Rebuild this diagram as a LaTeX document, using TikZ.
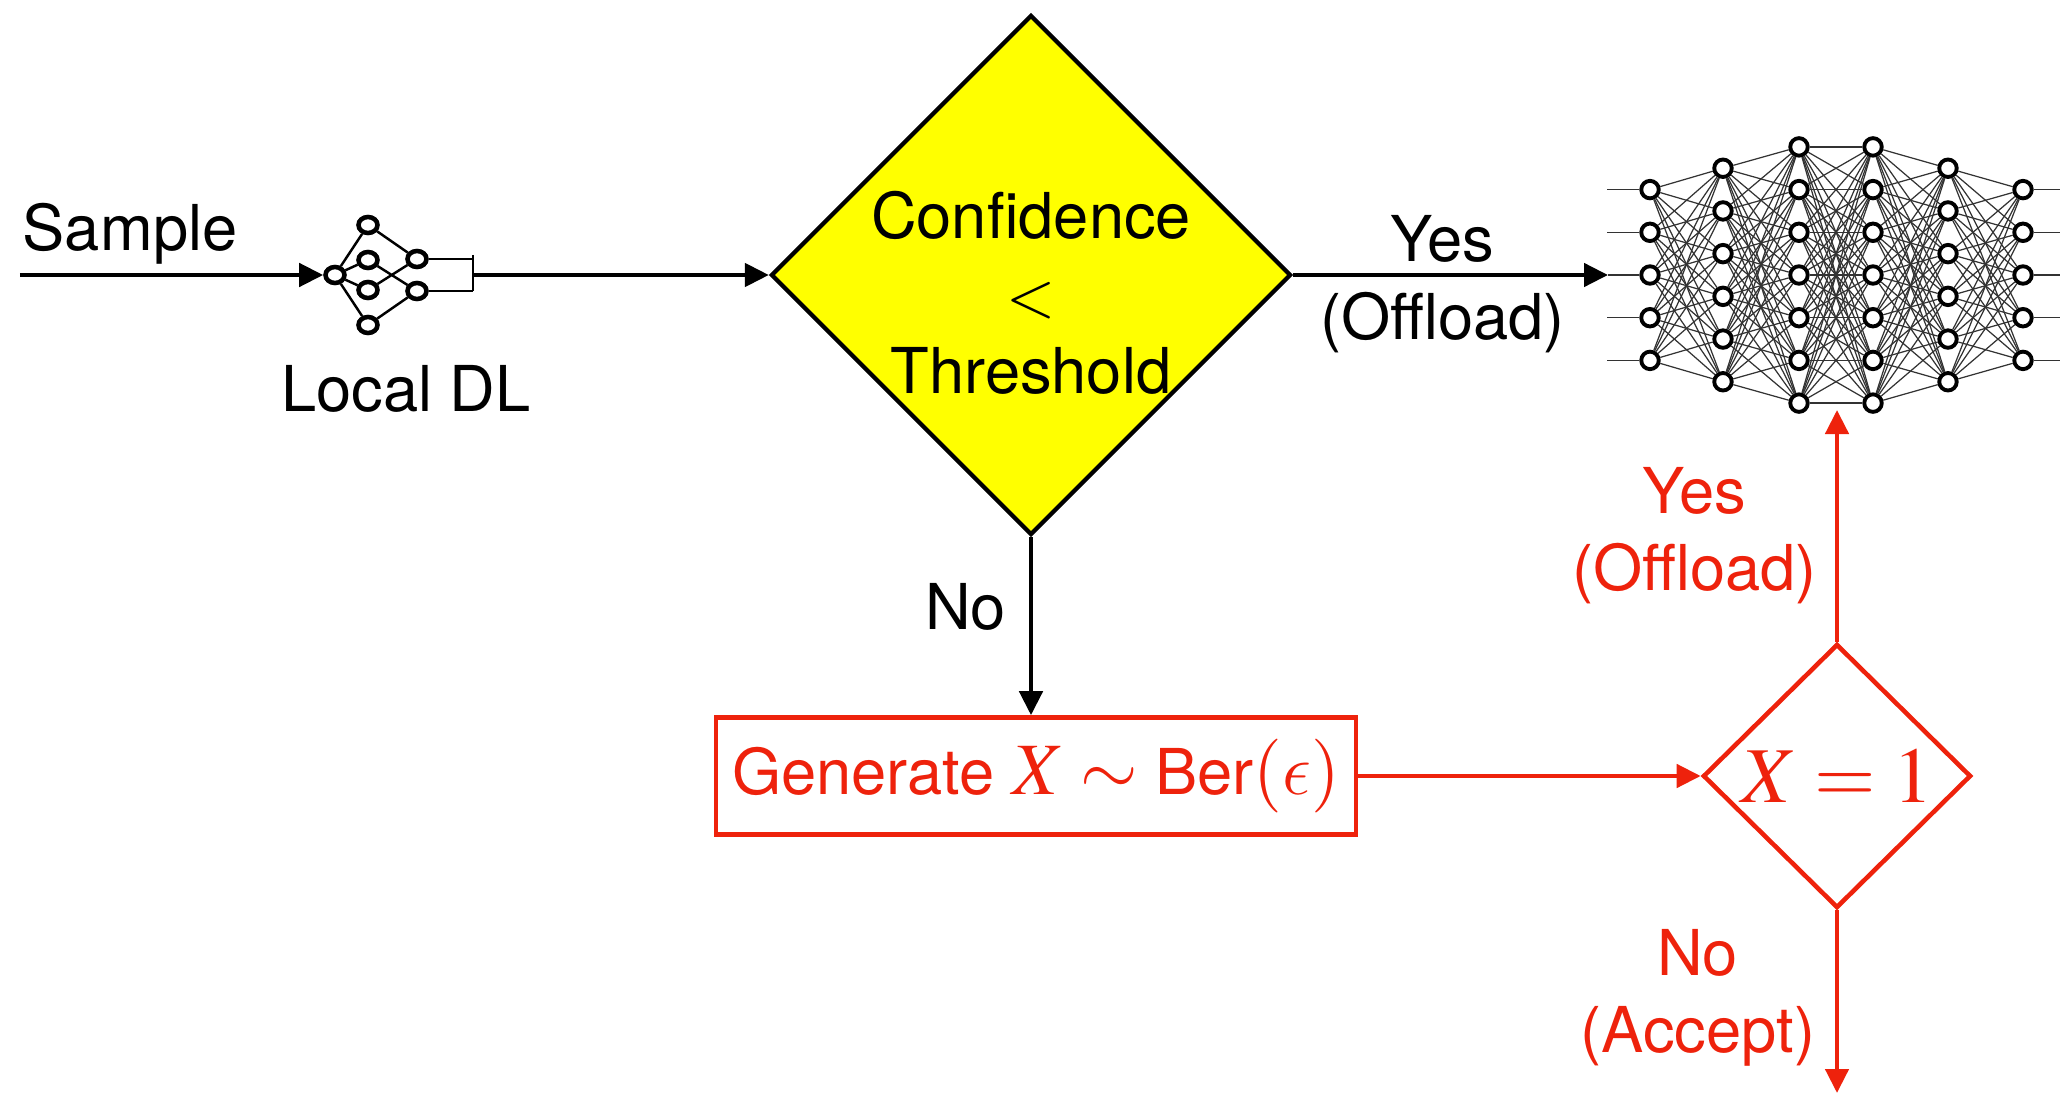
\documentclass[tikz,border=0pt]{standalone}
\usepackage{mathptmx}
\usepackage[no-math]{fontspec}
\setmainfont{TeX Gyre Heros}
\usepackage{tikz}
\usetikzlibrary{shapes.geometric, arrows.meta, positioning, calc}

\definecolor{offred}{RGB}{238,34,12}
\definecolor{confyellow}{RGB}{255,255,0}

% lunate epsilon taken from the CM letters
\DeclareSymbolFont{cmletters}{OML}{cmm}{m}{it}
\DeclareMathSymbol{\lunateps}{\mathord}{cmletters}{"0F}

\newcommand{\flowfont}{\fontsize{18}{22}\selectfont}
\newcommand{\bigmath}[1]{{\fontsize{21}{25}\selectfont$#1$}}

\tikzset{
  >={Triangle[length=2.4mm, width=2.3mm]},
  flow/.style={line width=1.3pt},
  redflow/.style={flow, draw=offred},
  neuron/.style={circle, draw, fill=white, line width=1.1pt, minimum size=1.75mm, inner sep=0pt},
  smallneuron/.style={ellipse, draw, fill=white, line width=1.3pt, minimum width=1.9mm, minimum height=1.6mm, inner sep=0pt},
  synapse/.style={line width=0.35pt, black!80},
  decision/.style={diamond, draw, line width=1.2pt, inner sep=0pt, aspect=1},
}

\begin{document}
\begin{tikzpicture}[font=\flowfont]
\useasboundingbox (0,0) rectangle (20.6,10.93);

% sample and the local model
\coordinate (sample) at (0.2,8.18);
\node[anchor=base west, inner sep=0pt] (samplelbl) at (0.22,8.43) {Sample};
\node[smallneuron] (in) at (3.35,8.18) {};
\foreach \j/\y in {1/8.68, 2/8.33, 3/8.03, 4/7.68}
  \node[smallneuron] (h\j) at (3.68,\y) {};
\node[smallneuron] (o1) at (4.17,8.34) {};
\node[smallneuron] (o2) at (4.17,8.02) {};
\foreach \j in {1,...,4} \draw[line width=0.7pt] (in) -- (h\j);
\draw[line width=0.7pt] (h1) -- (o1) (h3) -- (o1) (h2) -- (o2) (h4) -- (o2);
\coordinate (bartop) at (4.73,8.38);
\coordinate (barbot) at (4.73,8.02);
\coordinate (dlout) at (4.73,8.18);
\draw[line width=0.7pt] (o1) -- (o1 -| bartop) (o2) -- (barbot) (bartop) -- (barbot);
\node[anchor=base] (dllbl) at (4.06,6.81) {Local DL};
\draw[flow, ->] (sample) -- (in);

% confidence test
\node[decision, fill=confyellow, minimum width=5.2cm, minimum height=5.2cm] (conf) at (10.31,8.18) {};
\node[align=center] (conftxt) at (10.31,8.0) {Confidence\\$<$\\Threshold};
\draw[flow, ->] (dlout) -- (conf.west);

% remote model
\foreach \l/\n/\x in {1/5/16.50, 2/6/17.23, 3/7/17.99, 4/7/18.73, 5/6/19.48, 6/5/20.23}
  \foreach \j in {1,...,\n}
    \node[neuron] (n\l-\j) at (\x, {8.18+((\n+1)/2-\j)*0.427}) {};
\foreach \a/\na/\b/\nb in {1/5/2/6, 2/6/3/7, 3/7/4/7, 4/7/5/6, 5/6/6/5}
  \foreach \i in {1,...,\na}
    \foreach \k in {1,...,\nb}
      \draw[synapse] (n\a-\i) -- (n\b-\k);
\foreach \j in {1,2,4,5} \draw[synapse] (n1-\j) -- ++(-0.43,0);
\foreach \j in {1,...,5} \draw[synapse] (n6-\j) -- ++(0.37,0);
\coordinate (netin) at (16.08,8.18);
\draw[synapse] (netin) -- (n1-3);
\draw[flow, ->] (conf.east) -- (netin) node[midway, xshift=-0.08cm, yshift=-0.09cm, align=center] (yeslbl) {Yes\\(Offload)};

% random offloading branch
\node[draw=offred, text=offred, line width=1.3pt, minimum width=6.4cm, minimum height=1.17cm] (gen) at (10.36,3.17) {Generate \bigmath{X \sim} Ber\bigmath{(\lunateps)}};
\draw[flow, ->] (conf.south) -- (conf.south |- gen.north) node[midway, left=0.11cm, yshift=0.19cm] (nolbl) {No};
\node[decision, draw=offred, text=offred, line width=1.3pt, minimum width=2.68cm, minimum height=2.64cm] (xone) at (18.37,3.17) {\fontsize{22.5}{27}\selectfont $X = 1$};
\draw[redflow, ->] (gen.east) -- (xone.west);
\coordinate (netbot) at (18.37,6.83);
\draw[redflow, ->] (xone.north) -- (netbot) node[midway, left=0.06cm, yshift=-0.1cm, text=offred, align=center] (yesred) {Yes\\(Offload)};
\coordinate (accept) at (18.37,0);
\draw[redflow, ->] (xone.south) -- (accept) node[midway, left=0.08cm, yshift=0.04cm, text=offred, align=center] (nored) {No\\(Accept)};
\end{tikzpicture}
\end{document}
